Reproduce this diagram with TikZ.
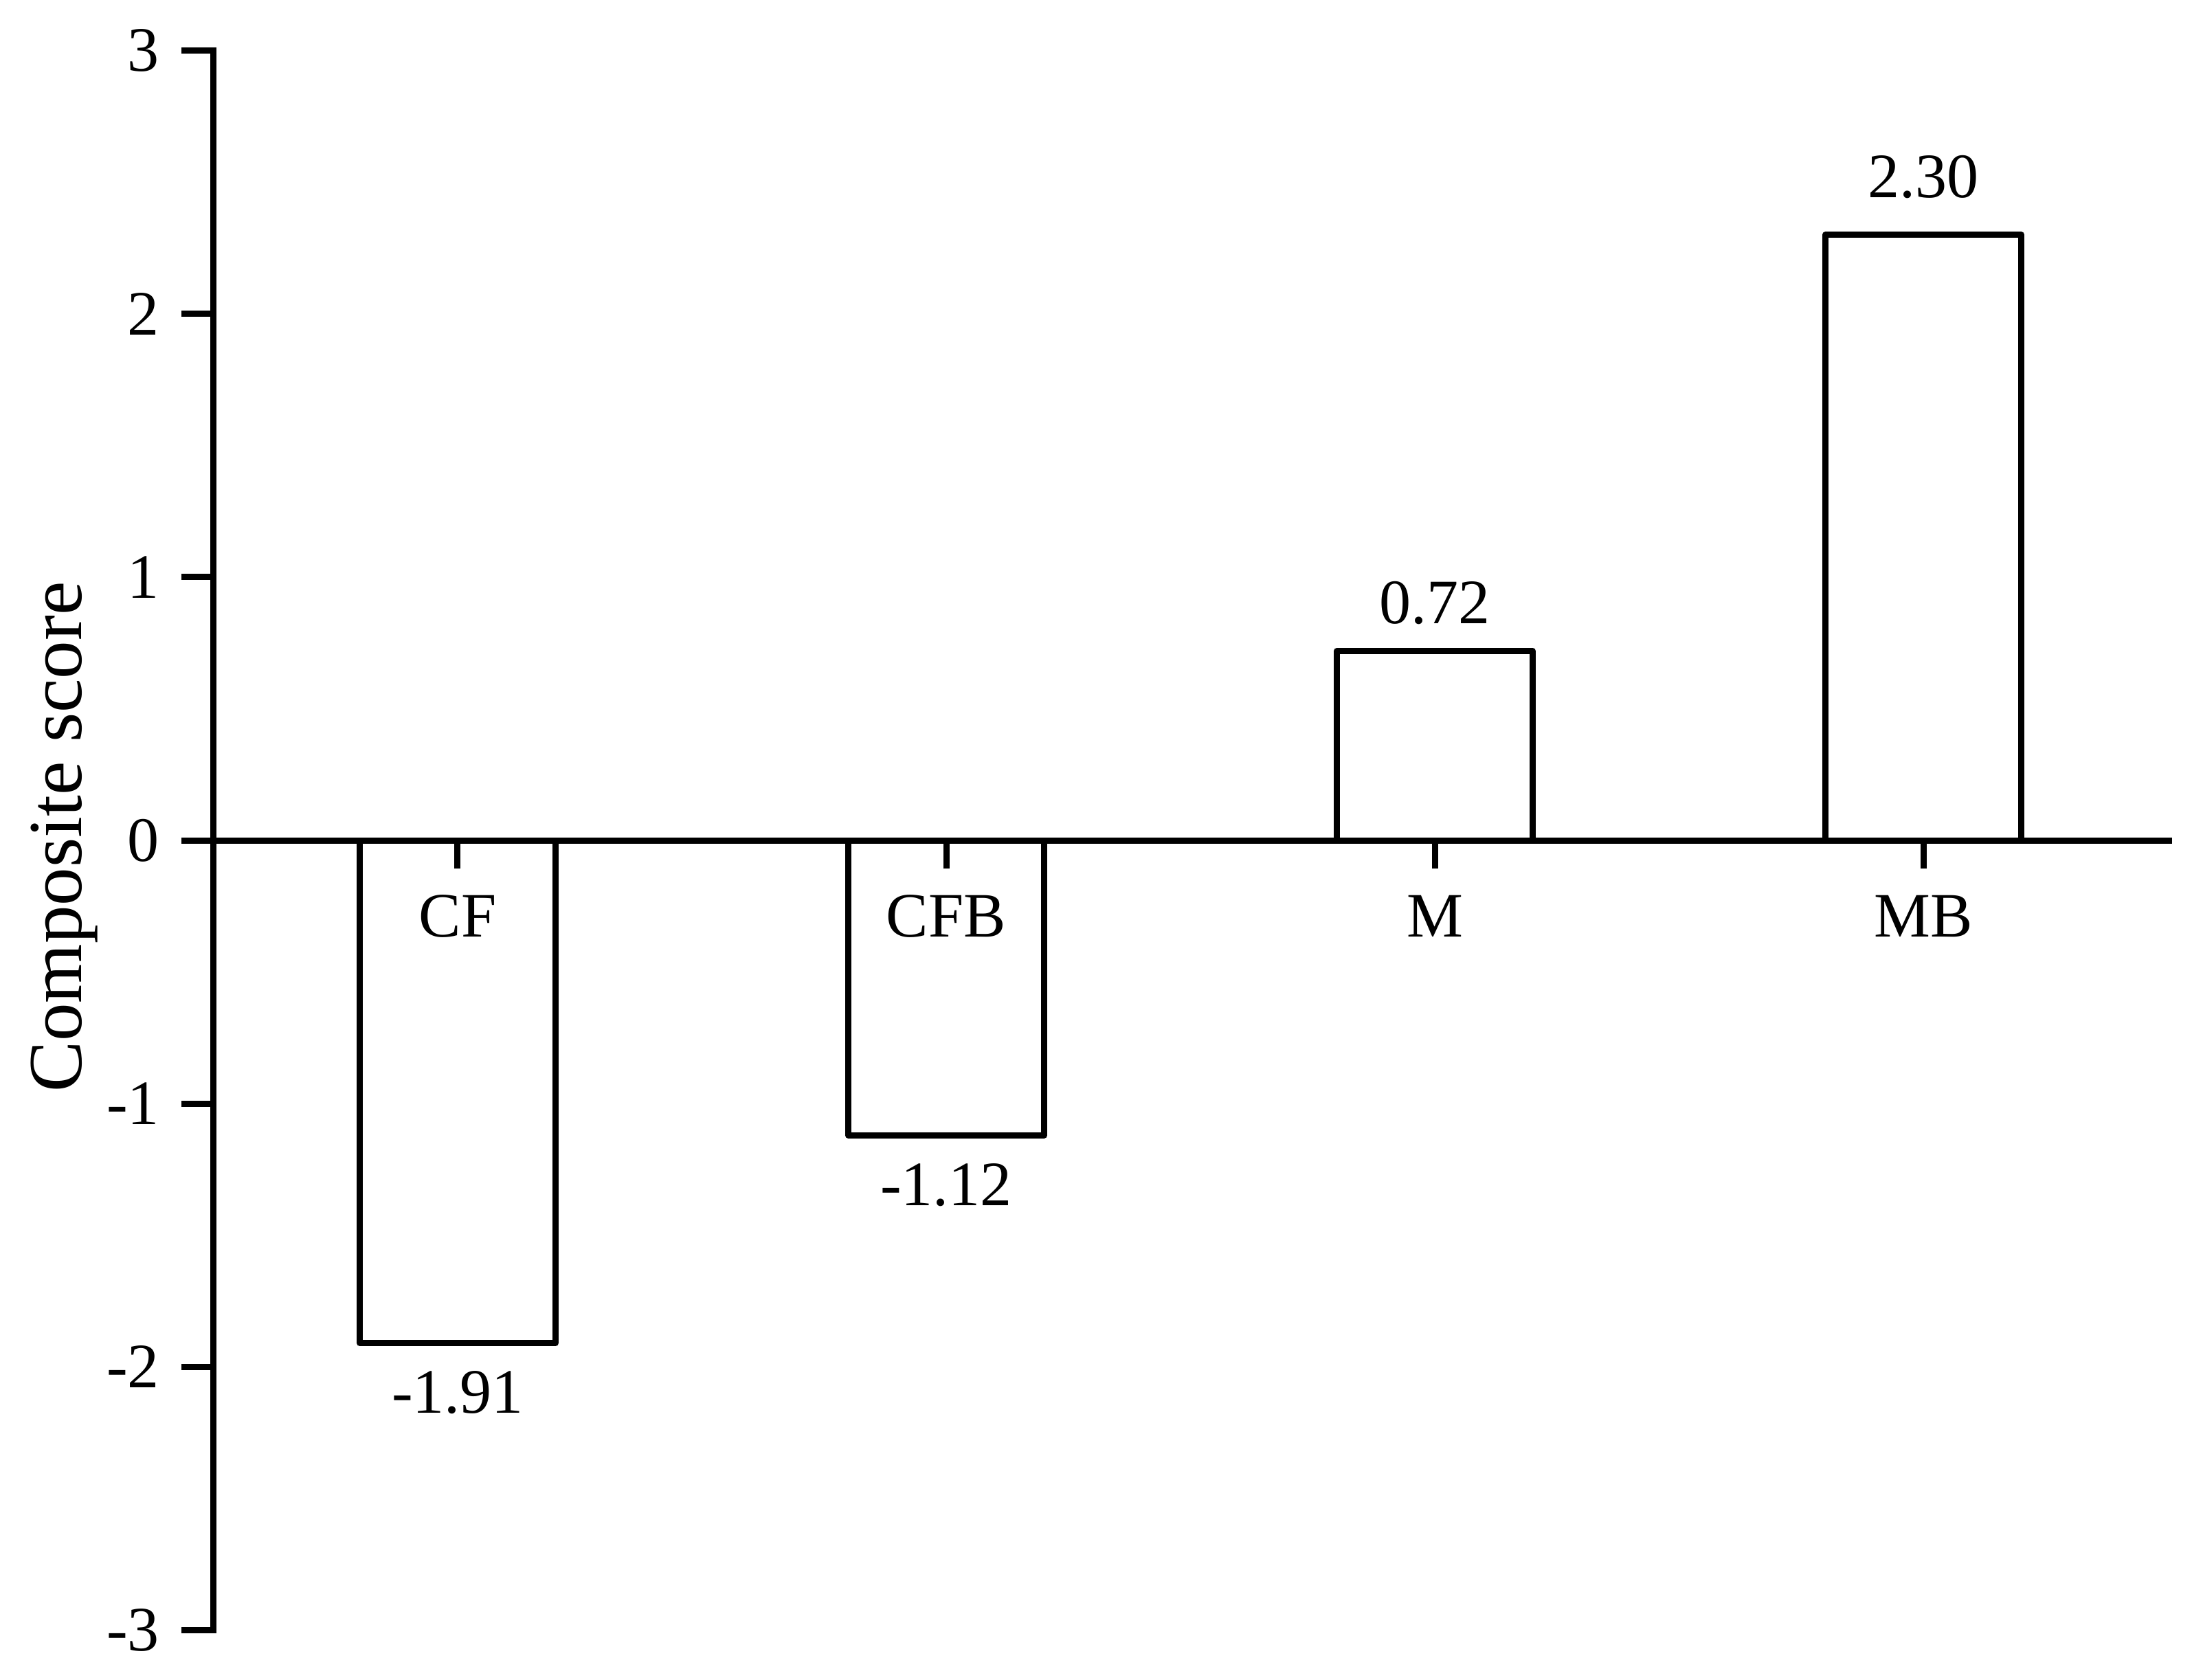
\documentclass[tikz,border=0pt]{standalone}
\usepackage{fontspec}
\setmainfont{Liberation Serif}
\begin{document}
\begin{tikzpicture}[x=1cm,y=1.916cm,line width=1.28pt,
    axisline/.style={line cap=rect},
    bar/.style={draw,line join=round},
    ticklabel/.style={anchor=east,inner sep=0pt},
    valuelabel/.style={anchor=base,inner sep=0pt},
    font=\fontsize{13.1}{15}\selectfont]
                    \useasboundingbox (-1.5525,-3.1863) rectangle (14.3975,3.1916);
                    % bars
                    \draw[bar] (1.0650,0) rectangle (2.4900,-1.91);
                    \draw[bar] (4.6200,0) rectangle (6.0450,-1.12);
                    \draw[bar] (8.1750,0) rectangle (9.6000,0.72);
                    \draw[bar] (11.7300,0) rectangle (13.1550,2.30);
                    % axes
                    \draw[axisline] (0,3) -- (0,-3);
                    \draw[axisline] (0,0) -- (14.23,0);
                    \draw[axisline] (-0.21,3) -- (0,3);
                    \draw[axisline] (-0.21,2) -- (0,2);
                    \draw[axisline] (-0.21,1) -- (0,1);
                    \draw[axisline] (-0.21,0) -- (0,0);
                    \draw[axisline] (-0.21,-1) -- (0,-1);
                    \draw[axisline] (-0.21,-2) -- (0,-2);
                    \draw[axisline] (-0.21,-3) -- (0,-3);
                    \draw (1.7775,0) -- ++(0,-0.205cm);
                    \draw (5.3325,0) -- ++(0,-0.205cm);
                    \draw (8.8875,0) -- ++(0,-0.205cm);
                    \draw (12.4425,0) -- ++(0,-0.205cm);
                    % tick labels
                    \node[ticklabel] (t3)  at (-0.37,3)  {3};
                    \node[ticklabel] (t2)  at (-0.37,2)  {2};
                    \node[ticklabel] (t1)  at (-0.37,1)  {1};
                    \node[ticklabel] (t0)  at (-0.37,0)  {0};
                    \node[ticklabel] (tm1) at (-0.37,-1) {-1};
                    \node[ticklabel] (tm2) at (-0.37,-2) {-2};
                    \node[ticklabel] (tm3) at (-0.37,-3) {-3};
                    \node[rotate=90,anchor=base,inner sep=0pt,font=\fontsize{15.8}{18}\selectfont] (ylab) at (-0.9625,0.013) {Composite score};
                    % category labels
                    \node[valuelabel,yshift=-0.70cm] (cf)  at (1.7775,0)  {CF};
                    \node[valuelabel,yshift=-0.70cm] (cfb) at (5.3325,0)  {CFB};
                    \node[valuelabel,yshift=-0.70cm] (m)   at (8.8875,0)  {M};
                    \node[valuelabel,yshift=-0.70cm] (mb)  at (12.4425,0) {MB};
                    % values
                    \node[valuelabel,yshift=-0.51cm] (vcf)  at (1.7775,-1.91) {-1.91};
                    \node[valuelabel,yshift=-0.51cm] (vcfb) at (5.3325,-1.12) {-1.12};
                    \node[valuelabel,yshift=0.20cm]  (vm)   at (8.8875,0.72)  {0.72};
                    \node[valuelabel,yshift=0.27cm]  (vmb)  at (12.4425,2.30) {2.30};
                \end{tikzpicture}
\end{document}
